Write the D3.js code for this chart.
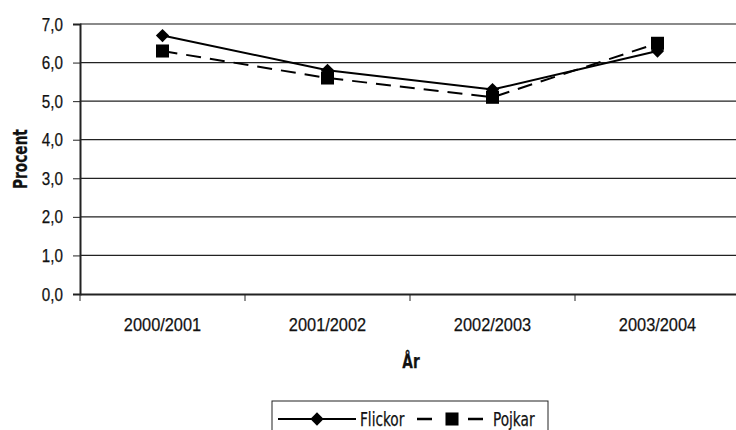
<!DOCTYPE html>
<html>
<head>
<meta charset="utf-8">
<script src="https://cdn.jsdelivr.net/npm/d3@7"></script>
<style>
  body { margin: 0; background: #fff; }
  svg { font-family: "Liberation Sans Narrow", "DejaVu Sans Condensed", sans-serif; }
  svg text { font-size: 19px; fill: #111; stroke: #111; stroke-width: 0.25px; }
</style>
</head>
<body>
<script>
const years = ["2000/2001", "2001/2002", "2002/2003", "2003/2004"];
const flickor = [6.7, 5.8, 5.3, 6.3];
const pojkar = [6.3, 5.6, 5.1, 6.5];
const yTicks = [0, 1, 2, 3, 4, 5, 6, 7];

const width = 736, height = 430;
const plotLeft = 80, plotRight = 740, plotTop = 24, plotBottom = 294;

const svg = d3.select("body").append("svg")
  .attr("width", width)
  .attr("height", height);

const x = d3.scaleBand().domain(years).range([plotLeft, plotRight]);
const y = d3.scaleLinear().domain([0, 7]).range([plotBottom, plotTop]);
const fmt = d => d.toFixed(1).replace(".", ",");

// gridlines
svg.append("g")
  .selectAll("line")
  .data(yTicks.filter(d => d > 0))
  .join("line")
  .attr("x1", plotLeft).attr("x2", plotRight)
  .attr("y1", d => y(d)).attr("y2", d => y(d))
  .attr("stroke", d => d === 7 ? "#8a8a8a" : "#222")
  .attr("stroke-width", d => d === 7 ? 2 : 1.2);

// y axis
svg.append("g")
  .attr("transform", `translate(${plotLeft},0)`)
  .call(d3.axisLeft(y).tickValues(yTicks).tickFormat(fmt).tickSize(7).tickPadding(10))
  .call(g => g.select(".domain").attr("stroke", "#222").attr("stroke-width", 2))
  .call(g => g.selectAll(".tick line").attr("stroke", "#222"))
  .call(g => g.selectAll("text").attr("font-size", null).attr("font-family", null));

// x axis
const xAxis = svg.append("g")
  .attr("transform", `translate(0,${plotBottom})`)
  .call(d3.axisBottom(x).tickSize(0).tickPadding(24))
  .call(g => g.select(".domain").attr("stroke", "#222").attr("stroke-width", 2))
  .call(g => g.selectAll("text").attr("font-size", null).attr("font-family", null).classed("wide", true));

// category separators
svg.append("g")
  .selectAll("line")
  .data(years)
  .join("line")
  .attr("x1", d => x(d)).attr("x2", d => x(d))
  .attr("y1", plotBottom).attr("y2", plotBottom + 7)
  .attr("stroke", "#222");

svg.append("text")
  .attr("transform", `translate(27,${(plotTop + plotBottom) / 2}) rotate(-90)`)
  .attr("text-anchor", "middle")
  .attr("font-weight", "bold")
  .text("Procent");

svg.append("text")
  .attr("x", 411).attr("y", 368)
  .attr("text-anchor", "middle")
  .attr("font-weight", "bold")
  .text("År");

const cx = d => x(d) + x.bandwidth() / 2;
const line = d3.line().x(d => cx(d[0])).y(d => y(d[1]));

svg.append("path")
  .datum(d3.zip(years, flickor))
  .attr("fill", "none").attr("stroke", "#000").attr("stroke-width", 2)
  .attr("d", line);

svg.append("path")
  .datum(d3.zip(years, pojkar))
  .attr("fill", "none").attr("stroke", "#000").attr("stroke-width", 2)
  .attr("stroke-dasharray", "15,9")
  .attr("d", line);

const diamond = d3.symbol().type(d3.symbolDiamond2).size(112);
const square = d3.symbol().type(d3.symbolSquare).size(170);

svg.append("g")
  .selectAll("path")
  .data(d3.zip(years, pojkar))
  .join("path")
  .attr("transform", d => `translate(${cx(d[0])},${y(d[1])})`)
  .attr("d", square);

svg.append("g")
  .selectAll("path")
  .data(d3.zip(years, flickor))
  .join("path")
  .attr("transform", d => `translate(${cx(d[0])},${y(d[1])})`)
  .attr("d", diamond);

// legend
const lg = svg.append("g").attr("transform", "translate(272,401)");
lg.append("rect")
  .attr("width", 276).attr("height", 36)
  .attr("fill", "#fff").attr("stroke", "#222");
lg.append("line").attr("x1", 6).attr("x2", 84).attr("y1", 18).attr("y2", 18)
  .attr("stroke", "#000").attr("stroke-width", 2);
lg.append("path").attr("transform", "translate(45,18)").attr("d", diamond);
lg.append("text").attr("x", 88).attr("y", 25).text("Flickor");
lg.append("line").attr("x1", 145).attr("x2", 211).attr("y1", 18).attr("y2", 18)
  .attr("stroke", "#000").attr("stroke-width", 2.5).attr("stroke-dasharray", "15,36,15");
lg.append("path").attr("transform", "translate(180,18)").attr("d", square);
lg.append("text").attr("x", 221).attr("y", 25).text("Pojkar");

// narrow the fallback face to match the condensed original
svg.selectAll("text").each(function () {
  const w = this.getComputedTextLength();
  const k = this.classList.contains("wide") ? 0.86 : 0.8;
  d3.select(this).attr("textLength", w * k).attr("lengthAdjust", "spacingAndGlyphs");
});
</script>
</body>
</html>
